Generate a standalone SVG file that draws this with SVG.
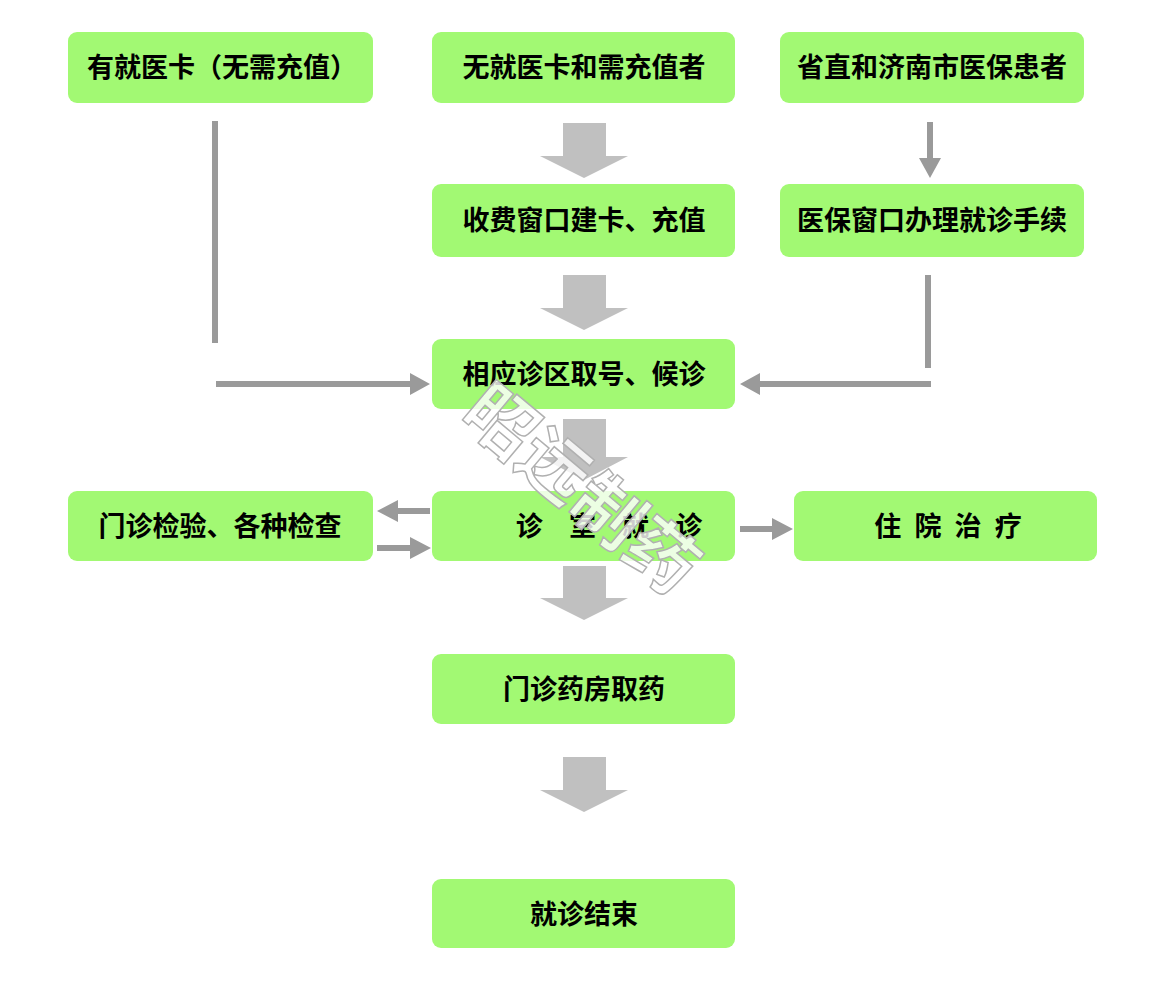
<svg xmlns="http://www.w3.org/2000/svg" width="1164" height="998" viewBox="0 0 1164 998">
<style>
.box{fill:#a2f973;}
.lbl{font-family:"Noto Sans CJK SC","Noto Sans CJK JP",sans-serif;font-weight:bold;font-size:27px;fill:#000;text-anchor:middle;}
.big{fill:#c0c0c0;}
.dk{fill:#9a9a9a;}
.wm{font-family:"Noto Sans CJK SC",sans-serif;font-weight:bold;font-size:70px;fill:#ffffff;stroke:#b0b0b0;stroke-width:1.5;fill-opacity:0.8;}
</style>
<rect width="1164" height="998" fill="#ffffff"/>
<g id="connectors">
  <polygon class="big" points="563,123 606,123 606,156 628,156 584,178 540,156 563,156"/>
  <polygon class="big" points="563,275 606,275 606,308 628,308 584,330 540,308 563,308"/>
  <polygon class="big" points="563,419 606,419 606,457 628,457 584,480 540,457 563,457"/>
  <polygon class="big" points="563,566 606,566 606,598 628,598 584,620 540,598 563,598"/>
  <polygon class="big" points="563,757 606,757 606,790 628,790 584,812 540,790 563,790"/>
  <rect class="dk" x="212" y="121" width="6" height="222"/>
  <polygon class="dk" points="216,381 410,381 410,373 430,384 410,395 410,387 216,387"/>
  <polygon class="dk" points="927,122 933,122 933,158 941,158 930,178 919,158 927,158"/>
  <rect class="dk" x="925" y="275" width="6" height="93"/>
  <polygon class="dk" points="931,381 760,381 760,373 740,384 760,395 760,387 931,387"/>
  <polygon class="dk" points="430,508 398,508 398,500 377,511 398,522 398,514 430,514"/>
  <polygon class="dk" points="377,545 410,545 410,537 431,548 410,559 410,551 377,551"/>
  <polygon class="dk" points="740,526 772,526 772,518 793,529 772,540 772,532 740,532"/>
</g>
<g id="nodeA"><rect class="box" x="68" y="32" width="305" height="71" rx="9"/><text class="lbl" x="222" y="77">有就医卡（无需充值）</text></g>
<g id="nodeB"><rect class="box" x="432" y="32" width="303" height="71" rx="9"/><text class="lbl" x="584" y="77">无就医卡和需充值者</text></g>
<g id="nodeC"><rect class="box" x="780" y="32" width="304" height="71" rx="9"/><text class="lbl" x="932" y="77">省直和济南市医保患者</text></g>
<g id="nodeD"><rect class="box" x="432" y="184" width="303" height="73" rx="9"/><text class="lbl" x="584" y="230">收费窗口建卡、充值</text></g>
<g id="nodeE"><rect class="box" x="780" y="184" width="304" height="73" rx="9"/><text class="lbl" x="932" y="230">医保窗口办理就诊手续</text></g>
<g id="nodeF"><rect class="box" x="432" y="339" width="303" height="70" rx="9"/><text class="lbl" x="584" y="384">相应诊区取号、候诊</text></g>
<g id="nodeG"><rect class="box" x="68" y="491" width="305" height="70" rx="9"/><text class="lbl" x="220" y="536">门诊检验、各种检查</text></g>
<g id="nodeH"><rect class="box" x="432" y="491" width="303" height="70" rx="9"/><text class="lbl" x="609" y="536" word-spacing="20">诊 室 就 诊</text></g>
<g id="nodeI"><rect class="box" x="794" y="491" width="303" height="70" rx="9"/><text class="lbl" x="948" y="536" word-spacing="7">住 院 治 疗</text></g>
<g id="nodeJ"><rect class="box" x="432" y="654" width="303" height="70" rx="9"/><text class="lbl" x="584" y="699">门诊药房取药</text></g>
<g id="nodeK"><rect class="box" x="432" y="879" width="303" height="69" rx="9"/><text class="lbl" x="584" y="924">就诊结束</text></g>
<g id="watermark"><text class="wm" x="0" y="0" transform="translate(458,418) rotate(40)">昭远制药</text></g>
</svg>
